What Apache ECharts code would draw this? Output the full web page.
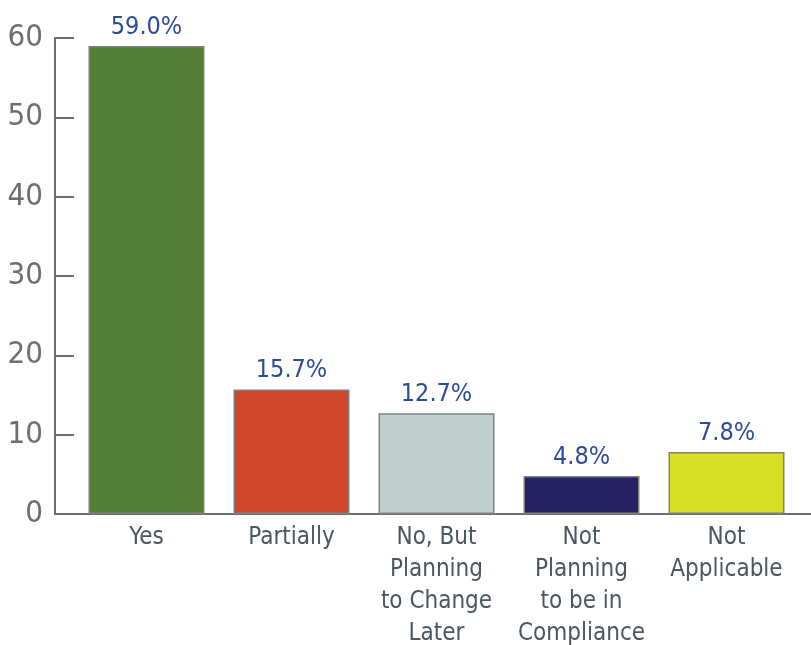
<!DOCTYPE html>
<html><head><meta charset="utf-8">
<script src="https://cdn.jsdelivr.net/npm/echarts@6/dist/echarts.min.js"></script>
<style>html,body{margin:0;padding:0;background:#fff}#c{width:811px;height:645px}</style>
</head><body><div id="c"></div>
<script>
const categories = ["Yes", "Partially", "No, But\nPlanning\nto Change\nLater", "Not\nPlanning\nto be in\nCompliance", "Not\nApplicable"];
const values = [59.0, 15.7, 12.7, 4.8, 7.8];
const barColors = ["#547F39", "#D0472A", "#BFCFCE", "#262262", "#D6DF23"];
const yTicks = [0, 10, 20, 30, 40, 50, 60];

const FONT = '"Liberation Sans Narrow", "DejaVu Sans Condensed", "Roboto", sans-serif';
const axisColor = "#6D6E71";
const chart = echarts.init(document.getElementById('c'), null, {renderer: 'canvas'});
chart.setOption({
  animation: false,
  grid: [
    {left: 55, right: 0, top: 38, bottom: 131, outerBoundsMode: 'none', containLabel: false},
    {left: 74, right: 12, top: 38, bottom: 131, outerBoundsMode: 'none', containLabel: false}
  ],
  xAxis: [
    {type: 'value', gridIndex: 0, min: 0, max: 1, axisLine: {show: true, lineStyle: {color: axisColor, width: 2}},
     axisTick: {show: false}, axisLabel: {show: false}, splitLine: {show: false}},
    {type: 'category', gridIndex: 1, data: categories, axisLine: {show: false}, axisTick: {show: false},
     axisLabel: {color: '#4A5660', fontFamily: FONT, fontSize: 24, lineHeight: 32, margin: 8, interval: 0}}
  ],
  yAxis: [
    {type: 'value', gridIndex: 0, min: yTicks[0], max: yTicks[yTicks.length - 1], interval: 10,
     axisLine: {show: true, lineStyle: {color: axisColor, width: 2}},
     axisTick: {show: true, inside: true, length: 19, lineStyle: {color: axisColor, width: 2}},
     axisLabel: {color: axisColor, fontFamily: FONT, fontSize: 31, margin: 12},
     splitLine: {show: false}},
    {type: 'value', gridIndex: 1, min: 0, max: 60, show: false}
  ],
  series: [{
    type: 'bar', xAxisIndex: 1, yAxisIndex: 1, barWidth: 116,
    data: values.map((v, i) => ({value: v, itemStyle: {color: barColors[i]}})),
    itemStyle: {borderColor: '#808080', borderWidth: 1.5},
    label: {show: true, position: 'top', distance: 6, color: '#2B4B9B', fontFamily: FONT, fontSize: 25,
      formatter: p => p.value.toFixed(1) + '%'}
  }]
});
</script></body></html>
